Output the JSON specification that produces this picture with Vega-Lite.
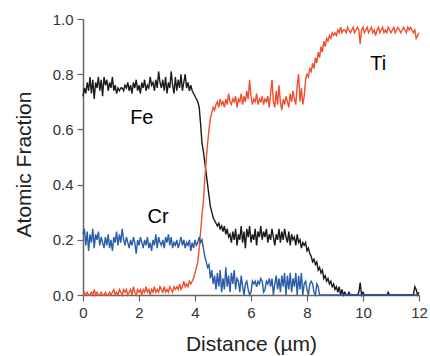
{
"$schema": "https://vega.github.io/schema/vega-lite/v6.json",
"width": 336, "height": 276,
"autosize": {"type": "none"},
"padding": {"left": 83, "top": 19, "right": 11, "bottom": 61},
"background": "white",
"config": {"view": {"stroke": null}, "font": "Liberation Sans"},
"layer": [
{
"data": {"values": [
{"x":0.00,"Fe":0.72,"Ti":0,"Cr":0.22},{"x":0.05,"Fe":0.75,"Ti":0.01,"Cr":0.24},{"x":0.10,"Fe":0.73,"Ti":0,"Cr":0.18},{"x":0.15,"Fe":0.77,"Ti":0.01,"Cr":0.23},{"x":0.20,"Fe":0.74,"Ti":0,"Cr":0.16},
{"x":0.25,"Fe":0.79,"Ti":0,"Cr":0.22},{"x":0.30,"Fe":0.73,"Ti":0.01,"Cr":0.19},{"x":0.35,"Fe":0.78,"Ti":0,"Cr":0.24},{"x":0.40,"Fe":0.71,"Ti":0.02,"Cr":0.17},{"x":0.45,"Fe":0.77,"Ti":0,"Cr":0.22},
{"x":0.50,"Fe":0.75,"Ti":0.01,"Cr":0.20},{"x":0.55,"Fe":0.79,"Ti":0,"Cr":0.23},{"x":0.60,"Fe":0.74,"Ti":0,"Cr":0.18},{"x":0.65,"Fe":0.78,"Ti":0.01,"Cr":0.21},{"x":0.70,"Fe":0.72,"Ti":0,"Cr":0.19},
{"x":0.75,"Fe":0.79,"Ti":0,"Cr":0.17},{"x":0.80,"Fe":0.76,"Ti":0.01,"Cr":0.21},{"x":0.85,"Fe":0.78,"Ti":0,"Cr":0.18},{"x":0.90,"Fe":0.74,"Ti":0,"Cr":0.22},{"x":0.95,"Fe":0.77,"Ti":0.01,"Cr":0.17},
{"x":1.00,"Fe":0.75,"Ti":0,"Cr":0.20},{"x":1.05,"Fe":0.79,"Ti":0.01,"Cr":0.16},{"x":1.10,"Fe":0.74,"Ti":0.02,"Cr":0.21},{"x":1.15,"Fe":0.76,"Ti":0,"Cr":0.19},{"x":1.20,"Fe":0.73,"Ti":0.01,"Cr":0.23},
{"x":1.25,"Fe":0.75,"Ti":0,"Cr":0.18},{"x":1.30,"Fe":0.74,"Ti":0.02,"Cr":0.22},{"x":1.35,"Fe":0.75,"Ti":0.01,"Cr":0.19},{"x":1.40,"Fe":0.75,"Ti":0,"Cr":0.24},{"x":1.45,"Fe":0.74,"Ti":0.02,"Cr":0.20},
{"x":1.50,"Fe":0.76,"Ti":0.01,"Cr":0.18},{"x":1.55,"Fe":0.75,"Ti":0.02,"Cr":0.21},{"x":1.60,"Fe":0.77,"Ti":0,"Cr":0.19},{"x":1.65,"Fe":0.74,"Ti":0.01,"Cr":0.17},{"x":1.70,"Fe":0.76,"Ti":0.02,"Cr":0.20},
{"x":1.75,"Fe":0.73,"Ti":0,"Cr":0.18},{"x":1.80,"Fe":0.77,"Ti":0.03,"Cr":0.21},{"x":1.85,"Fe":0.75,"Ti":0.01,"Cr":0.19},{"x":1.90,"Fe":0.78,"Ti":0,"Cr":0.15},{"x":1.95,"Fe":0.74,"Ti":0.02,"Cr":0.20},
{"x":2.00,"Fe":0.76,"Ti":0.01,"Cr":0.18},{"x":2.05,"Fe":0.73,"Ti":0.02,"Cr":0.21},{"x":2.10,"Fe":0.77,"Ti":0,"Cr":0.19},{"x":2.15,"Fe":0.75,"Ti":0.02,"Cr":0.17},{"x":2.20,"Fe":0.78,"Ti":0.01,"Cr":0.20},
{"x":2.25,"Fe":0.74,"Ti":0.03,"Cr":0.18},{"x":2.30,"Fe":0.76,"Ti":0.01,"Cr":0.21},{"x":2.35,"Fe":0.75,"Ti":0.02,"Cr":0.17},{"x":2.40,"Fe":0.79,"Ti":0,"Cr":0.19},{"x":2.45,"Fe":0.76,"Ti":0.02,"Cr":0.16},
{"x":2.50,"Fe":0.77,"Ti":0.01,"Cr":0.20},{"x":2.55,"Fe":0.74,"Ti":0.03,"Cr":0.18},{"x":2.60,"Fe":0.78,"Ti":0.01,"Cr":0.22},{"x":2.65,"Fe":0.75,"Ti":0.02,"Cr":0.17},{"x":2.70,"Fe":0.81,"Ti":0.01,"Cr":0.21},
{"x":2.75,"Fe":0.77,"Ti":0.03,"Cr":0.19},{"x":2.80,"Fe":0.75,"Ti":0.02,"Cr":0.18},{"x":2.85,"Fe":0.78,"Ti":0.01,"Cr":0.20},{"x":2.90,"Fe":0.74,"Ti":0.03,"Cr":0.17},{"x":2.95,"Fe":0.79,"Ti":0.01,"Cr":0.21},
{"x":3.00,"Fe":0.73,"Ti":0.02,"Cr":0.19},{"x":3.05,"Fe":0.77,"Ti":0.01,"Cr":0.22},{"x":3.10,"Fe":0.75,"Ti":0.03,"Cr":0.18},{"x":3.15,"Fe":0.81,"Ti":0.02,"Cr":0.21},{"x":3.20,"Fe":0.76,"Ti":0.01,"Cr":0.17},
{"x":3.25,"Fe":0.73,"Ti":0.03,"Cr":0.19},{"x":3.30,"Fe":0.79,"Ti":0.02,"Cr":0.18},{"x":3.35,"Fe":0.74,"Ti":0.03,"Cr":0.20},{"x":3.40,"Fe":0.78,"Ti":0.02,"Cr":0.17},{"x":3.45,"Fe":0.75,"Ti":0.04,"Cr":0.19},
{"x":3.50,"Fe":0.80,"Ti":0.02,"Cr":0.21},{"x":3.55,"Fe":0.74,"Ti":0.03,"Cr":0.18},{"x":3.60,"Fe":0.77,"Ti":0.05,"Cr":0.20},{"x":3.65,"Fe":0.80,"Ti":0.03,"Cr":0.17},{"x":3.70,"Fe":0.75,"Ti":0.04,"Cr":0.19},
{"x":3.75,"Fe":0.77,"Ti":0.03,"Cr":0.18},{"x":3.80,"Fe":0.74,"Ti":0.05,"Cr":0.20},{"x":3.85,"Fe":0.76,"Ti":0.04,"Cr":0.16},{"x":3.90,"Fe":0.74,"Ti":0.05,"Cr":0.19},{"x":3.95,"Fe":0.73,"Ti":0.06,"Cr":0.17},
{"x":4.00,"Fe":0.72,"Ti":0.08,"Cr":0.20},{"x":4.05,"Fe":0.71,"Ti":0.10,"Cr":0.18},{"x":4.10,"Fe":0.70,"Ti":0.12,"Cr":0.19},{"x":4.15,"Fe":0.68,"Ti":0.17,"Cr":0.21},{"x":4.20,"Fe":0.62,"Ti":0.23,"Cr":0.19},
{"x":4.25,"Fe":0.55,"Ti":0.29,"Cr":0.20},{"x":4.30,"Fe":0.52,"Ti":0.34,"Cr":0.17},{"x":4.35,"Fe":0.48,"Ti":0.42,"Cr":0.14},{"x":4.40,"Fe":0.44,"Ti":0.49,"Cr":0.12},{"x":4.45,"Fe":0.40,"Ti":0.55,"Cr":0.10},
{"x":4.50,"Fe":0.36,"Ti":0.60,"Cr":0.11},{"x":4.55,"Fe":0.32,"Ti":0.64,"Cr":0.06},{"x":4.60,"Fe":0.30,"Ti":0.66,"Cr":0.09},{"x":4.65,"Fe":0.28,"Ti":0.68,"Cr":0.04},{"x":4.70,"Fe":0.27,"Ti":0.67,"Cr":0.07},
{"x":4.75,"Fe":0.26,"Ti":0.69,"Cr":0.02},{"x":4.80,"Fe":0.25,"Ti":0.70,"Cr":0.08},{"x":4.85,"Fe":0.26,"Ti":0.68,"Cr":0.03},{"x":4.90,"Fe":0.24,"Ti":0.71,"Cr":0.09},{"x":4.95,"Fe":0.25,"Ti":0.69,"Cr":0.01},
{"x":5.00,"Fe":0.23,"Ti":0.70,"Cr":0.06},{"x":5.05,"Fe":0.25,"Ti":0.68,"Cr":0.02},{"x":5.10,"Fe":0.22,"Ti":0.71,"Cr":0.10},{"x":5.15,"Fe":0.24,"Ti":0.69,"Cr":0.03},{"x":5.20,"Fe":0.21,"Ti":0.73,"Cr":0.07},
{"x":5.25,"Fe":0.22,"Ti":0.70,"Cr":0.01},{"x":5.30,"Fe":0.19,"Ti":0.69,"Cr":0.08},{"x":5.35,"Fe":0.23,"Ti":0.71,"Cr":0.04},{"x":5.40,"Fe":0.20,"Ti":0.70,"Cr":0.09},{"x":5.45,"Fe":0.24,"Ti":0.72,"Cr":0.02},
{"x":5.50,"Fe":0.18,"Ti":0.68,"Cr":0.06},{"x":5.55,"Fe":0.22,"Ti":0.71,"Cr":0.05},{"x":5.60,"Fe":0.20,"Ti":0.70,"Cr":0.01},{"x":5.65,"Fe":0.25,"Ti":0.73,"Cr":0.07},{"x":5.70,"Fe":0.19,"Ti":0.69,"Cr":0.03},
{"x":5.75,"Fe":0.23,"Ti":0.72,"Cr":0},{"x":5.80,"Fe":0.17,"Ti":0.70,"Cr":0.04},{"x":5.85,"Fe":0.24,"Ti":0.74,"Cr":0.05},{"x":5.90,"Fe":0.21,"Ti":0.71,"Cr":0.02},{"x":5.95,"Fe":0.25,"Ti":0.78,"Cr":0},
{"x":6.00,"Fe":0.19,"Ti":0.72,"Cr":0.01},{"x":6.05,"Fe":0.22,"Ti":0.69,"Cr":0.05},{"x":6.10,"Fe":0.20,"Ti":0.71,"Cr":0.04},{"x":6.15,"Fe":0.24,"Ti":0.70,"Cr":0.05},{"x":6.20,"Fe":0.18,"Ti":0.73,"Cr":0.03},
{"x":6.25,"Fe":0.23,"Ti":0.69,"Cr":0.05},{"x":6.30,"Fe":0.21,"Ti":0.71,"Cr":0.04},{"x":6.35,"Fe":0.25,"Ti":0.70,"Cr":0.06},{"x":6.40,"Fe":0.20,"Ti":0.72,"Cr":0.05},{"x":6.45,"Fe":0.23,"Ti":0.69,"Cr":0.01},
{"x":6.50,"Fe":0.21,"Ti":0.71,"Cr":0.02},{"x":6.55,"Fe":0.24,"Ti":0.70,"Cr":0.05},{"x":6.60,"Fe":0.19,"Ti":0.72,"Cr":0.04},{"x":6.65,"Fe":0.22,"Ti":0.68,"Cr":0.06},{"x":6.70,"Fe":0.20,"Ti":0.73,"Cr":0.03},
{"x":6.75,"Fe":0.24,"Ti":0.78,"Cr":0.06},{"x":6.80,"Fe":0.21,"Ti":0.70,"Cr":0},{"x":6.85,"Fe":0.18,"Ti":0.68,"Cr":0.04},{"x":6.90,"Fe":0.22,"Ti":0.74,"Cr":0.07},{"x":6.95,"Fe":0.20,"Ti":0.69,"Cr":0.02},
{"x":7.00,"Fe":0.24,"Ti":0.76,"Cr":0.06},{"x":7.05,"Fe":0.19,"Ti":0.70,"Cr":0.01},{"x":7.10,"Fe":0.23,"Ti":0.67,"Cr":0.07},{"x":7.15,"Fe":0.20,"Ti":0.71,"Cr":0.03},{"x":7.20,"Fe":0.24,"Ti":0.69,"Cr":0.08},
{"x":7.25,"Fe":0.21,"Ti":0.72,"Cr":0},{"x":7.30,"Fe":0.19,"Ti":0.70,"Cr":0.07},{"x":7.35,"Fe":0.23,"Ti":0.68,"Cr":0.02},{"x":7.40,"Fe":0.18,"Ti":0.73,"Cr":0.08},{"x":7.45,"Fe":0.22,"Ti":0.70,"Cr":0.01},
{"x":7.50,"Fe":0.20,"Ti":0.74,"Cr":0.06},{"x":7.55,"Fe":0.21,"Ti":0.71,"Cr":0.03},{"x":7.60,"Fe":0.18,"Ti":0.69,"Cr":0.08},{"x":7.65,"Fe":0.22,"Ti":0.76,"Cr":0},{"x":7.70,"Fe":0.19,"Ti":0.80,"Cr":0.07},
{"x":7.75,"Fe":0.20,"Ti":0.70,"Cr":0.02},{"x":7.80,"Fe":0.17,"Ti":0.75,"Cr":0.08},{"x":7.85,"Fe":0.19,"Ti":0.69,"Cr":0},{"x":7.90,"Fe":0.18,"Ti":0.72,"Cr":0.04},{"x":7.95,"Fe":0.19,"Ti":0.78,"Cr":0.05},
{"x":8.00,"Fe":0.16,"Ti":0.80,"Cr":0.02},{"x":8.05,"Fe":0.17,"Ti":0.79,"Cr":0},{"x":8.10,"Fe":0.15,"Ti":0.82,"Cr":0.04},{"x":8.15,"Fe":0.14,"Ti":0.81,"Cr":0.05},{"x":8.20,"Fe":0.12,"Ti":0.84,"Cr":0.04},
{"x":8.25,"Fe":0.13,"Ti":0.82,"Cr":0.01},{"x":8.30,"Fe":0.11,"Ti":0.86,"Cr":0},{"x":8.35,"Fe":0.12,"Ti":0.84,"Cr":0.04},{"x":8.40,"Fe":0.09,"Ti":0.88,"Cr":0.03},{"x":8.45,"Fe":0.10,"Ti":0.86,"Cr":0},
{"x":8.50,"Fe":0.08,"Ti":0.90,"Cr":0},{"x":8.55,"Fe":0.09,"Ti":0.88,"Cr":0},{"x":8.60,"Fe":0.06,"Ti":0.92,"Cr":0},{"x":8.65,"Fe":0.07,"Ti":0.90,"Cr":0},{"x":8.70,"Fe":0.05,"Ti":0.93,"Cr":0},
{"x":8.75,"Fe":0.06,"Ti":0.92,"Cr":0},{"x":8.80,"Fe":0.04,"Ti":0.94,"Cr":0},{"x":8.85,"Fe":0.05,"Ti":0.93,"Cr":0},{"x":8.90,"Fe":0.03,"Ti":0.95,"Cr":0},{"x":8.95,"Fe":0.04,"Ti":0.94,"Cr":0},
{"x":9.00,"Fe":0.02,"Ti":0.95,"Cr":0},{"x":9.05,"Fe":0.03,"Ti":0.94,"Cr":0},{"x":9.10,"Fe":0.01,"Ti":0.96,"Cr":0},{"x":9.15,"Fe":0.03,"Ti":0.95,"Cr":0},{"x":9.20,"Fe":0,"Ti":0.97,"Cr":0},
{"x":9.25,"Fe":0.02,"Ti":0.95,"Cr":0},{"x":9.30,"Fe":0,"Ti":0.96,"Cr":0},{"x":9.35,"Fe":0.01,"Ti":0.96,"Cr":0},{"x":9.40,"Fe":0,"Ti":0.95,"Cr":0},{"x":9.45,"Fe":0,"Ti":0.97,"Cr":0},
{"x":9.50,"Fe":0.01,"Ti":0.96,"Cr":0},{"x":9.55,"Fe":0,"Ti":0.95,"Cr":0},{"x":9.60,"Fe":0,"Ti":0.96,"Cr":0},{"x":9.65,"Fe":0,"Ti":0.97,"Cr":0},{"x":9.70,"Fe":0,"Ti":0.95,"Cr":0},
{"x":9.75,"Fe":0,"Ti":0.96,"Cr":0},{"x":9.80,"Fe":0,"Ti":0.97,"Cr":0},{"x":9.85,"Fe":0.01,"Ti":0.96,"Cr":0},{"x":9.90,"Fe":0.045,"Ti":0.91,"Cr":0},{"x":9.95,"Fe":0,"Ti":0.96,"Cr":0},
{"x":10.00,"Fe":0.01,"Ti":0.97,"Cr":0},{"x":10.05,"Fe":0,"Ti":0.95,"Cr":0},{"x":10.10,"Fe":0,"Ti":0.96,"Cr":0},{"x":10.15,"Fe":0,"Ti":0.97,"Cr":0},{"x":10.20,"Fe":0,"Ti":0.95,"Cr":0},
{"x":10.25,"Fe":0,"Ti":0.96,"Cr":0},{"x":10.30,"Fe":0,"Ti":0.97,"Cr":0},{"x":10.35,"Fe":0,"Ti":0.95,"Cr":0},{"x":10.40,"Fe":0,"Ti":0.96,"Cr":0},{"x":10.45,"Fe":0,"Ti":0.94,"Cr":0},
{"x":10.50,"Fe":0,"Ti":0.96,"Cr":0},{"x":10.55,"Fe":0,"Ti":0.97,"Cr":0},{"x":10.60,"Fe":0,"Ti":0.95,"Cr":0},{"x":10.65,"Fe":0,"Ti":0.96,"Cr":0},{"x":10.70,"Fe":0,"Ti":0.97,"Cr":0},
{"x":10.75,"Fe":0,"Ti":0.95,"Cr":0},{"x":10.80,"Fe":0,"Ti":0.96,"Cr":0},{"x":10.85,"Fe":0,"Ti":0.95,"Cr":0},{"x":10.90,"Fe":0.01,"Ti":0.97,"Cr":0},{"x":10.95,"Fe":0,"Ti":0.96,"Cr":0},
{"x":11.00,"Fe":0,"Ti":0.95,"Cr":0},{"x":11.05,"Fe":0,"Ti":0.96,"Cr":0},{"x":11.10,"Fe":0,"Ti":0.97,"Cr":0},{"x":11.15,"Fe":0,"Ti":0.95,"Cr":0},{"x":11.20,"Fe":0,"Ti":0.96,"Cr":0},
{"x":11.25,"Fe":0,"Ti":0.97,"Cr":0},{"x":11.30,"Fe":0,"Ti":0.96,"Cr":0},{"x":11.35,"Fe":0,"Ti":0.95,"Cr":0},{"x":11.40,"Fe":0,"Ti":0.96,"Cr":0},{"x":11.45,"Fe":0,"Ti":0.97,"Cr":0},
{"x":11.50,"Fe":0,"Ti":0.96,"Cr":0},{"x":11.55,"Fe":0,"Ti":0.95,"Cr":0},{"x":11.60,"Fe":0,"Ti":0.97,"Cr":0},{"x":11.65,"Fe":0,"Ti":0.96,"Cr":0},{"x":11.70,"Fe":0,"Ti":0.97,"Cr":0},
{"x":11.75,"Fe":0,"Ti":0.96,"Cr":0},{"x":11.80,"Fe":0,"Ti":0.95,"Cr":0},{"x":11.85,"Fe":0.03,"Ti":0.96,"Cr":0},{"x":11.90,"Fe":0.02,"Ti":0.93,"Cr":0},{"x":11.95,"Fe":0,"Ti":0.94,"Cr":0},
{"x":12.00,"Fe":0.01,"Ti":0.95,"Cr":0}
]},
"transform": [{"fold": ["Fe", "Ti", "Cr"], "as": ["element", "fraction"]}],
"mark": {"type": "line", "strokeWidth": 1.4},
"encoding": {
"x": {"field": "x", "type": "quantitative", "scale": {"domain": [0, 12], "nice": false},
 "axis": {"title": "Distance (µm)", "values": [0,1,2,3,4,5,6,7,8,9,10,11,12],
  "labelExpr": "datum.value % 2 === 0 ? datum.label : ''",
  "tickSize": {"condition": {"test": "datum.value % 2 === 0", "value": 6}, "value": 3.5},
  "grid": false, "labelFontSize": 15, "labelColor": "#333", "labelPadding": 4, "labelFlush": false, "labelOverlap": false,
  "domainColor": "#666", "domainWidth": 1.5, "tickColor": "#666", "tickWidth": 1.2,
  "titleFontSize": 21, "titleFontWeight": "normal", "titleColor": "#222", "titleBaseline": "alphabetic", "titleY": 55}},
"y": {"field": "fraction", "type": "quantitative", "scale": {"domain": [0, 1], "nice": false},
 "axis": {"title": "Atomic Fraction", "values": [0,0.1,0.2,0.3,0.4,0.5,0.6,0.7,0.8,0.9,1.0], "format": ".1f",
  "labelExpr": "round(datum.value*10) % 2 === 0 ? datum.label : ''",
  "tickSize": {"condition": {"test": "round(datum.value*10) % 2 === 0", "value": 6}, "value": 3.5},
  "grid": false, "labelFontSize": 15, "labelColor": "#333", "labelPadding": 4, "labelFlush": false, "labelOverlap": false,
  "domainColor": "#666", "domainWidth": 1.5, "tickColor": "#666", "tickWidth": 1.2,
  "titleFontSize": 21, "titleFontWeight": "normal", "titleColor": "#222", "titleAngle": -90, "titleAlign": "center", "titleBaseline": "alphabetic", "titleX": -53, "titleY": 145}},
"color": {"field": "element", "type": "nominal", "scale": {"domain": ["Fe", "Ti", "Cr"], "range": ["#1a1a1a", "#f04e30", "#2a5caa"]}, "legend": null}
}
},
{
"data": {"values": [
{"label": "Fe", "x": 2.1, "y": 0.64},
{"label": "Ti", "x": 10.54, "y": 0.837},
{"label": "Cr", "x": 2.68, "y": 0.283}
]},
"mark": {"type": "text", "fontSize": 20, "color": "#000", "align": "center", "baseline": "middle"},
"encoding": {
"x": {"field": "x", "type": "quantitative"},
"y": {"field": "y", "type": "quantitative"},
"text": {"field": "label"}
}
}
]
}
